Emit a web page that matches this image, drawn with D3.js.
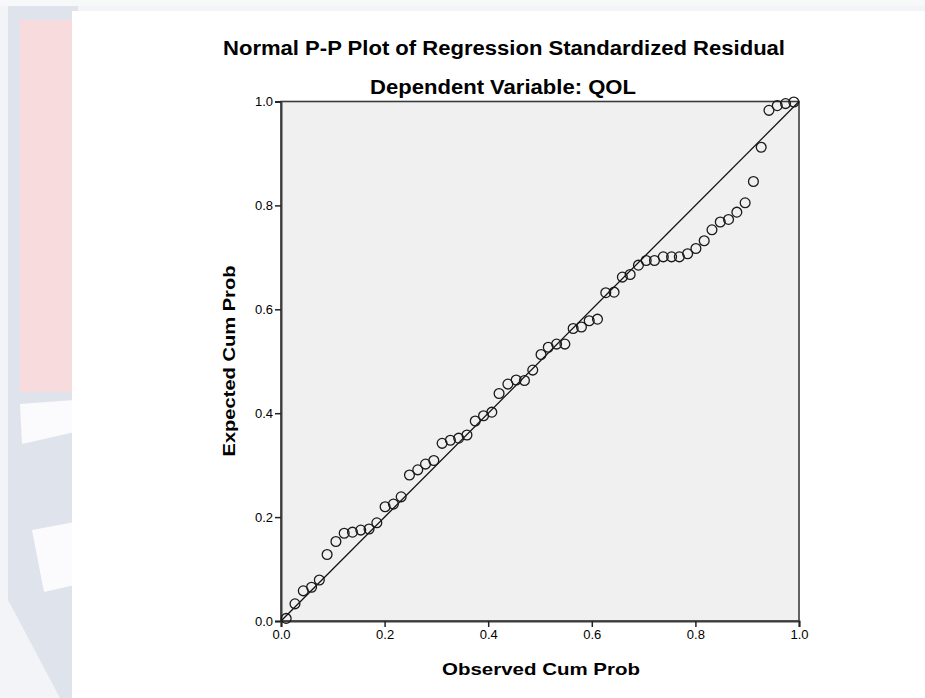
<!DOCTYPE html>
<html>
<head>
<meta charset="utf-8">
<script src="https://cdn.jsdelivr.net/npm/d3@7"></script>
<style>
  html, body { margin: 0; padding: 0; background: #fff; }
  svg { display: block; }
  text { font-family: "Liberation Sans", Arial, sans-serif; fill: #000; }
</style>
</head>
<body>
<div id="chart"></div>
<script>
// observed cumulative probability (x) and expected cumulative probability (y)
const observed = [0.010, 0.027, 0.043, 0.059, 0.074, 0.089, 0.106, 0.122, 0.138, 0.154,
  0.170, 0.185, 0.201, 0.217, 0.232, 0.248, 0.264, 0.279, 0.295, 0.311,
  0.327, 0.343, 0.359, 0.375, 0.391, 0.407, 0.421, 0.438, 0.454, 0.470,
  0.486, 0.502, 0.516, 0.532, 0.548, 0.564, 0.580, 0.595, 0.611, 0.627,
  0.643, 0.659, 0.674, 0.690, 0.705, 0.721, 0.738, 0.754, 0.769, 0.785,
  0.801, 0.817, 0.832, 0.848, 0.864, 0.880, 0.896, 0.912, 0.927, 0.942,
  0.958, 0.974, 0.990];
const expected = [0.005, 0.033, 0.058, 0.065, 0.079, 0.128, 0.153, 0.169, 0.171, 0.175,
  0.177, 0.189, 0.220, 0.225, 0.239, 0.281, 0.291, 0.302, 0.309, 0.342,
  0.348, 0.352, 0.358, 0.385, 0.395, 0.402, 0.438, 0.456, 0.464, 0.463,
  0.483, 0.513, 0.527, 0.533, 0.533, 0.563, 0.566, 0.578, 0.581, 0.632,
  0.633, 0.662, 0.667, 0.685, 0.694, 0.694, 0.701, 0.701, 0.701, 0.707,
  0.717, 0.732, 0.753, 0.768, 0.773, 0.787, 0.805, 0.846, 0.912, 0.983,
  0.992, 0.996, 0.999];
const tickValues = [0, 0.2, 0.4, 0.6, 0.8, 1.0];
const title = "Normal P-P Plot of Regression Standardized Residual";
const subtitle = "Dependent Variable: QOL";
const xLabel = "Observed Cum Prob";
const yLabel = "Expected Cum Prob";

const points = observed.map((v, i) => ({x: v, y: expected[i]}));

const width = 925, height = 698;
const plot = {left: 281, top: 101.5, right: 799, bottom: 621};

const svg = d3.select('#chart').append('svg')
  .attr('width', width)
  .attr('height', height);

// faded page background behind the chart card
const bg = svg.append('g');
bg.append('rect').attr('x', 0).attr('y', 0).attr('width', width).attr('height', height).attr('fill', '#f3f4f7');
bg.append('rect').attr('x', 8).attr('y', 6).attr('width', 70).attr('height', height).attr('fill', '#dfe3ec');
bg.append('rect').attr('x', 20).attr('y', 20).attr('width', 55).attr('height', 372).attr('fill', '#f8dcdd');
bg.append('path').attr('d', 'M20,404 L75,400 L75,432 L22,444 Z').attr('fill', '#fbfbfd');
bg.append('path').attr('d', 'M32,530 L75,522 L75,585 L44,592 Z').attr('fill', '#fbfbfd');
bg.append('path').attr('d', 'M8,600 Q40,660 60,698 L8,698 Z').attr('fill', '#f3f4f7');
bg.append('rect').attr('x', 0).attr('y', 0).attr('width', width).attr('height', 6).attr('fill', '#f7f8fa');
bg.append('rect').attr('x', 72).attr('y', 11).attr('width', width - 72).attr('height', height - 11).attr('fill', '#fff');

// scales
const x = d3.scaleLinear().domain([0, 1]).range([plot.left, plot.right]);
const y = d3.scaleLinear().domain([0, 1]).range([plot.bottom, plot.top]);

// plot area
svg.append('rect')
  .attr('x', plot.left).attr('y', plot.top)
  .attr('width', plot.right - plot.left).attr('height', plot.bottom - plot.top)
  .attr('fill', '#f0f0f0')
  .attr('stroke', '#3c3c3c')
  .attr('stroke-width', 1.6);

// axes
const fmt = d3.format('.1f');
const xAxis = svg.append('g')
  .attr('transform', 'translate(0,' + plot.bottom + ')')
  .call(d3.axisBottom(x).tickValues(tickValues).tickFormat(fmt).tickSize(6).tickPadding(3));
const yAxis = svg.append('g')
  .attr('transform', 'translate(' + plot.left + ',0)')
  .call(d3.axisLeft(y).tickValues(tickValues).tickFormat(fmt).tickSize(6).tickPadding(2));

[xAxis, yAxis].forEach(a => {
  a.select('.domain').attr('stroke', '#3c3c3c').attr('stroke-width', 2);
  a.selectAll('.tick line').attr('stroke', '#222').attr('stroke-width', 1.5);
  a.selectAll('.tick text')
    .style('font-family', '"Liberation Sans", Arial, sans-serif')
    .style('font-size', '13px')
    .attr('fill', '#2a2a2a');
});

// reference diagonal
svg.append('line')
  .attr('x1', x(0)).attr('y1', y(0))
  .attr('x2', x(1)).attr('y2', y(1))
  .attr('stroke', '#111')
  .attr('stroke-width', 1.3);

// points
svg.append('g').selectAll('circle')
  .data(points)
  .join('circle')
  .attr('cx', d => x(d.x))
  .attr('cy', d => y(d.y))
  .attr('r', 4.9)
  .attr('fill', 'none')
  .attr('stroke', '#1a1a1a')
  .attr('stroke-width', 1.3);

// titles
svg.append('text')
  .attr('x', 504).attr('y', 55)
  .attr('text-anchor', 'middle')
  .style('font-size', '20px')
  .style('font-weight', 'bold')
  .attr('textLength', 562)
  .attr('lengthAdjust', 'spacingAndGlyphs')
  .text(title);
svg.append('text')
  .attr('x', 503).attr('y', 94)
  .attr('text-anchor', 'middle')
  .style('font-size', '20px')
  .style('font-weight', 'bold')
  .attr('textLength', 266)
  .attr('lengthAdjust', 'spacingAndGlyphs')
  .text(subtitle);

// axis labels
svg.append('text')
  .attr('x', 541).attr('y', 675)
  .attr('text-anchor', 'middle')
  .style('font-size', '17px')
  .style('font-weight', 'bold')
  .attr('textLength', 198)
  .attr('lengthAdjust', 'spacingAndGlyphs')
  .text(xLabel);
svg.append('text')
  .attr('transform', 'translate(235,361) rotate(-90)')
  .attr('text-anchor', 'middle')
  .style('font-size', '17px')
  .style('font-weight', 'bold')
  .attr('textLength', 191)
  .attr('lengthAdjust', 'spacingAndGlyphs')
  .text(yLabel);
</script>
</body>
</html>
